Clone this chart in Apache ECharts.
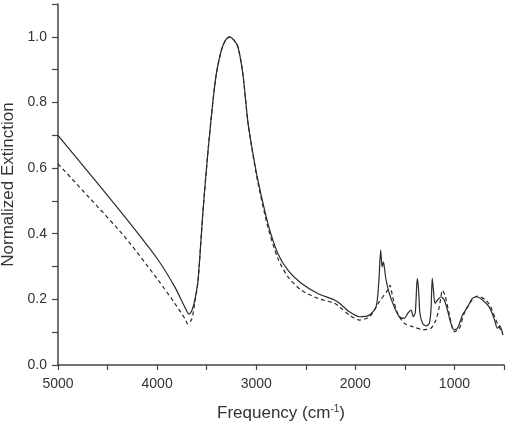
<!DOCTYPE html>
<html>
<head>
<meta charset="utf-8">
<script src="https://cdn.jsdelivr.net/npm/echarts@6/dist/echarts.min.js"></script>
<style>
  html, body { margin: 0; padding: 0; background: #fff; }
  #main { width: 511px; height: 432px; }
</style>
</head>
<body>
<div id="main"></div>
<script>
// measured spectrum (solid line)
var solidFreq = [5000, 4700, 4325, 3990, 3822, 3721, 3678, 3650, 3620, 3587, 3537, 3487, 3436, 3402, 3352, 3310, 3268, 3225, 3184, 3134, 3084, 3033, 2983, 2882, 2782, 2681, 2546, 2379, 2211, 2160, 2060, 1959, 1858, 1791, 1764, 1744, 1730, 1717, 1704, 1690, 1657, 1607, 1556, 1506, 1472, 1438, 1415, 1395, 1375, 1362, 1348, 1321, 1287, 1254, 1237, 1224, 1211, 1196, 1170, 1136, 1103, 1070, 1036, 1002, 969, 919, 868, 818, 778, 717, 650, 600, 566, 542, 510];
var solidExt = [0.700, 0.590, 0.451, 0.320, 0.238, 0.177, 0.155, 0.165, 0.198, 0.259, 0.470, 0.650, 0.806, 0.888, 0.959, 0.990, 1.000, 0.990, 0.969, 0.885, 0.740, 0.644, 0.563, 0.431, 0.340, 0.289, 0.249, 0.218, 0.198, 0.188, 0.162, 0.147, 0.152, 0.177, 0.249, 0.350, 0.299, 0.314, 0.290, 0.259, 0.218, 0.177, 0.147, 0.142, 0.157, 0.167, 0.147, 0.160, 0.264, 0.230, 0.157, 0.127, 0.119, 0.127, 0.167, 0.264, 0.225, 0.188, 0.198, 0.208, 0.198, 0.167, 0.127, 0.107, 0.112, 0.152, 0.177, 0.203, 0.208, 0.198, 0.177, 0.142, 0.112, 0.119, 0.091];

// calculated spectrum (dashed line)
var dashFreq = [5000, 4700, 4325, 3990, 3822, 3721, 3690, 3650, 3620, 3587, 3537, 3487, 3436, 3402, 3352, 3310, 3268, 3225, 3184, 3134, 3084, 3033, 2983, 2882, 2782, 2681, 2546, 2379, 2211, 2160, 2060, 1959, 1858, 1757, 1674, 1650, 1624, 1573, 1506, 1422, 1321, 1237, 1187, 1153, 1120, 1093, 1053, 1002, 952, 902, 834, 768, 683, 633, 582, 516];
var dashExt = [0.613, 0.515, 0.390, 0.259, 0.188, 0.142, 0.125, 0.140, 0.190, 0.255, 0.470, 0.650, 0.806, 0.888, 0.959, 0.990, 1.000, 0.990, 0.969, 0.885, 0.740, 0.640, 0.555, 0.420, 0.325, 0.269, 0.228, 0.203, 0.188, 0.177, 0.152, 0.137, 0.147, 0.193, 0.228, 0.243, 0.208, 0.157, 0.127, 0.117, 0.108, 0.112, 0.137, 0.177, 0.228, 0.210, 0.157, 0.101, 0.110, 0.157, 0.193, 0.210, 0.198, 0.177, 0.137, 0.096];

var xLabels = [5000, 4000, 3000, 2000, 1000];
var yLabels = [0, 0.2, 0.4, 0.6, 0.8, 1.0];

function pairs(xs, ys) {
    var out = [];
    for (var i = 0; i < xs.length; i++) {
        out.push([xs[i], ys[i]]);
    }
    return out;
}

var font = 'Liberation Sans, Arial, sans-serif';
var ink = '#333';

var myChart = echarts.init(document.getElementById('main'));
var option = {
    backgroundColor: '#fff',
    animation: false,
    grid: { left: 58, right: 7, top: 4, bottom: 67, outerBoundsMode: 'none' },
    xAxis: {
        type: 'value',
        inverse: true,
        min: 500,
        max: 5000,
        interval: 500,
        name: 'Frequency (cm{sup|-1})',
        nameLocation: 'middle',
        nameGap: 39,
        nameTextStyle: {
            fontFamily: font, fontSize: 17, color: ink,
            rich: { sup: { fontFamily: font, fontSize: 10, color: ink, verticalAlign: 'top', padding: [0, 0, 8, 0] } }
        },
        axisLine: { lineStyle: { color: '#444', width: 1.5 } },
        axisTick: { inside: false, length: 5, lineStyle: { color: '#444', width: 1.2 } },
        axisLabel: {
            fontFamily: font, fontSize: 14, color: ink, margin: 12,
            formatter: function (v) { return xLabels.indexOf(v) >= 0 ? String(v) : ''; }
        },
        splitLine: { show: false }
    },
    yAxis: {
        type: 'value',
        min: 0,
        max: 1.1,
        interval: 0.1,
        name: 'Normalized Extinction',
        nameLocation: 'middle',
        nameGap: 31,
        nameTextStyle: { fontFamily: font, fontSize: 17, color: ink },
        axisLine: { show: true, lineStyle: { color: '#444', width: 1.5 } },
        axisTick: { show: true, inside: false, length: 6, lineStyle: { color: '#444', width: 1.2 } },
        axisLabel: {
            fontFamily: font, fontSize: 14, color: ink, margin: 11,
            formatter: function (v) {
                for (var i = 0; i < yLabels.length; i++) {
                    if (Math.abs(v - yLabels[i]) < 1e-6) return yLabels[i].toFixed(1);
                }
                return '';
            }
        },
        splitLine: { show: false }
    },
    series: [
        {
            name: 'solid',
            type: 'line',
            data: pairs(solidFreq, solidExt),
            showSymbol: false,
            smooth: 0.25,
            lineStyle: { color: '#2a2a2a', width: 1.2 }
        },
        {
            name: 'dashed',
            type: 'line',
            data: pairs(dashFreq, dashExt),
            showSymbol: false,
            smooth: 0.25,
            lineStyle: { color: '#2a2a2a', width: 1.2, type: [4, 3] }
        }
    ]
};
myChart.setOption(option);
</script>
</body>
</html>
